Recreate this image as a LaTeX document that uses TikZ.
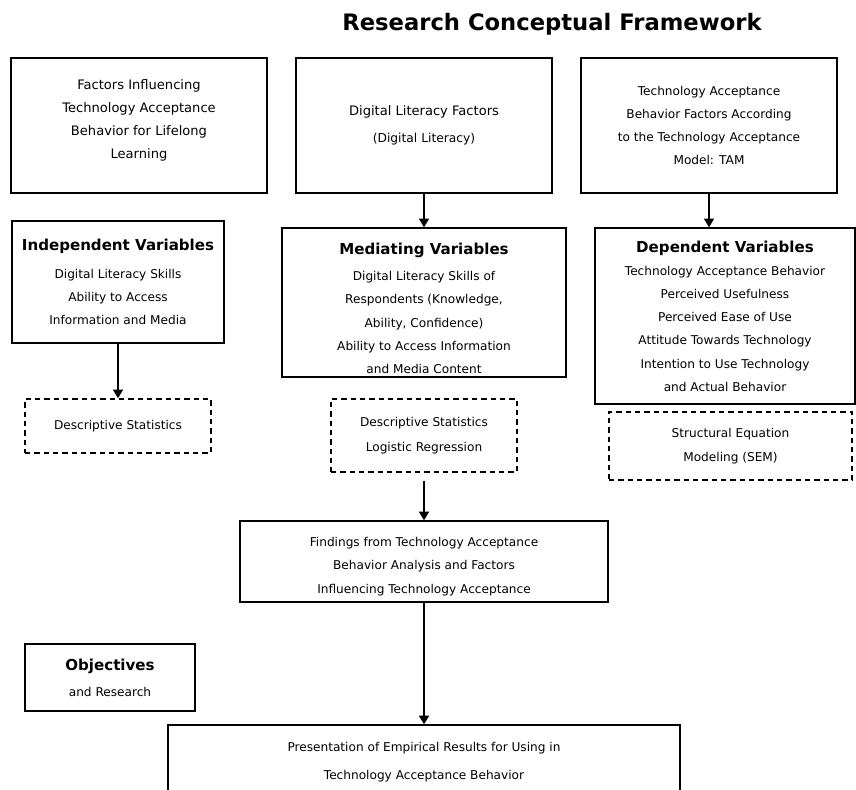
\documentclass[tikz,border=0pt]{standalone}
\usepackage{fontspec}
\setmainfont{DejaVu Sans}
\usetikzlibrary{arrows.meta}
\newcommand{\vartitle}[1]{{\bfseries\fontsize{11.3}{17.4}\selectfont #1}}

\begin{document}
\begin{tikzpicture}[
    x=0.75pt, y=-0.75pt,
    topbox/.style={rectangle, draw, line width=1.1pt, align=center, minimum width=192pt, minimum height=101.25pt, inner sep=2pt, font=\fontsize{9.8}{17.4}\selectfont},
    box/.style={rectangle, draw, line width=1.1pt, align=center, inner sep=2pt, font=\fontsize{9.1}{17.4}\selectfont},
    statbox/.style={box, dash pattern=on 4pt off 3pt},
    arrow/.style={-{Triangle[width=7.5pt,length=6.5pt]}, line width=1.1pt}
]
    \useasboundingbox (0,0) rectangle (856,789);

    % Title
    \node[font=\bfseries\fontsize{17}{20}\selectfont] (title) at (552,24) {Research Conceptual Framework};

    % Top row
    \node[topbox] (factors) at (139,125.5) {Factors Influencing\\Technology Acceptance\\Behavior for Lifelong\\Learning\rule[-9.8pt]{0pt}{9.8pt}};
    \node[topbox] (digital) at (424,125.5) {Digital Literacy Factors\\[3pt]{\fontsize{9.2}{17.4}\selectfont(Digital Literacy)}};
    \node[topbox, font=\fontsize{9.1}{17.4}\selectfont] (tam) at (709,125.5) {Technology Acceptance\\Behavior Factors According\\to the Technology Acceptance\\Model: TAM};

    % Variables
    \node[box, minimum width=159pt, minimum height=91.5pt] (indep) at (118,282) {\vartitle{Independent Variables}\\[3pt]Digital Literacy Skills\\Ability to Access\\Information and Media};
    \node[box, minimum width=213pt, minimum height=111.75pt] (med) at (424,302.5) {\rule{0pt}{17.6pt}\vartitle{Mediating Variables}\\[2pt]Digital Literacy Skills of\\Respondents (Knowledge,\\Ability, Confidence)\\Ability to Access Information\\and Media Content};
    \node[box, minimum width=195pt, minimum height=132pt] (dep) at (725,316) {\vartitle{Dependent Variables}\\Technology Acceptance Behavior\\Perceived Usefulness\\Perceived Ease of Use\\Attitude Towards Technology\\Intention to Use Technology\\and Actual Behavior};

    % Analysis
    \node[statbox, minimum width=139.5pt, minimum height=40.5pt] (desc) at (118,426) {Descriptive Statistics};
    \node[statbox, minimum width=139.5pt, minimum height=54.75pt] (logit) at (424,435.5) {Descriptive Statistics\\[1.4pt]Logistic Regression};
    \node[statbox, minimum width=182.25pt, minimum height=51pt] (sem) at (730.5,446) {Structural Equation\\[0.6pt]Modeling (SEM)};

    % Findings and results
    \node[box, minimum width=276pt, minimum height=60.75pt] (find) at (424,561.5) {\rule{0pt}{14.4pt}Findings from Technology Acceptance\\Behavior Analysis and Factors\\Influencing Technology Acceptance};
    \node[box, minimum width=127.5pt, minimum height=50.25pt] (obj) at (110,677.5) {\vartitle{Objectives}\\[2pt]and Research};
    \node[box, minimum width=384pt, minimum height=56.25pt] (pres) at (424,762.5) {Presentation of Empirical Results for Using in\\[3.6pt]Technology Acceptance Behavior};

    % Arrows
    \draw[arrow] (digital.south) -- (med.north);
    \draw[arrow] (tam.south) -- (tam.south |- dep.north);
    \draw[arrow] (indep.south) -- (desc.north);
    \draw[arrow, shorten <=6pt] (logit.south) -- (logit.south |- find.north);
    \draw[arrow] (find.south) -- (pres.north);
\end{tikzpicture}
\end{document}
